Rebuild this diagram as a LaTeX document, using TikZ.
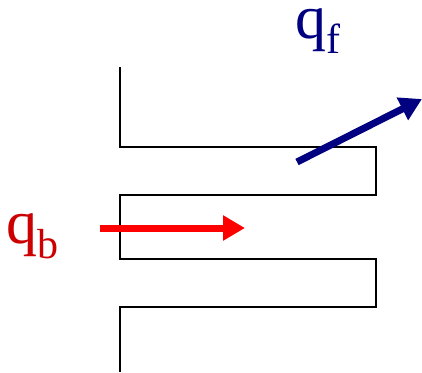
\documentclass[tikz,border=0pt]{standalone}
\usepackage{fontspec}
\setmainfont{Liberation Serif}
\definecolor{darkred}{RGB}{204,0,0}
\definecolor{navyblue}{RGB}{0,0,128}
\usetikzlibrary{arrows.meta}
\newcommand{\subtxt}[1]{\raisebox{-15pt}{\fontsize{42}{42}\selectfont #1}}

\begin{document}
\begin{tikzpicture}[x=1pt, y=-1pt,
  wall/.style={draw=black, line width=2pt},
  flux/.style={line width=7pt, -{Triangle[length=22pt, width=24pt]}},
  lbl/.style={inner sep=0pt, anchor=base west, font=\fontsize{62}{62}\selectfont},
]
\useasboundingbox (0,0) rectangle (422,372);

% folded wall
\draw[wall] (120,67) -- (120,147) -- (376,147) -- (376,195) -- (120,195)
  -- (120,259) -- (376,259) -- (376,307) -- (120,307) -- (120,372);

% flux arrows
\coordinate (qbstart) at (100,228);
\coordinate (qbend) at (245,228);
\coordinate (qfstart) at (297,162);
\coordinate (qfend) at (422,99);
\draw[flux, red] (qbstart) -- (qbend);
\draw[flux, navyblue] (qfstart) -- (qfend);

% labels
\node[lbl, text=darkred] (qb) at (6,243) {q\subtxt{b}};
\node[lbl, text=navyblue] (qf) at (295,38) {q\subtxt{f}};
\end{tikzpicture}
\end{document}
